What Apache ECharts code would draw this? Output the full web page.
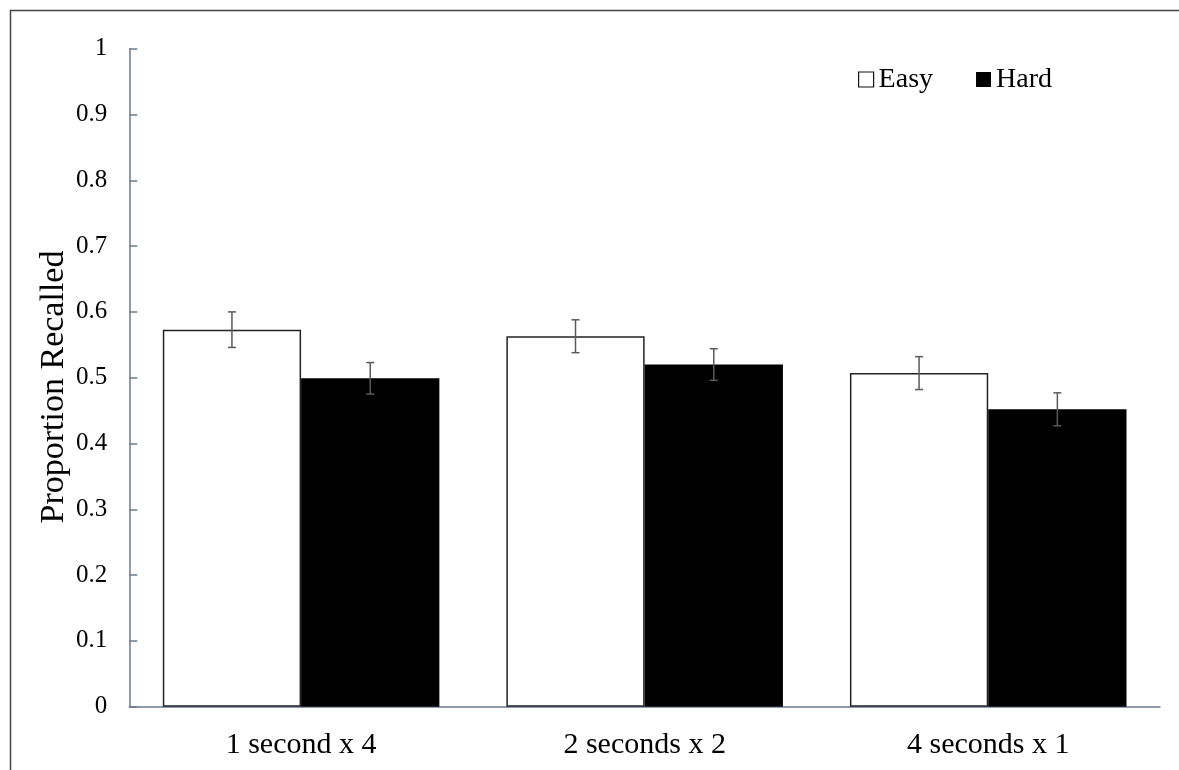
<!DOCTYPE html>
<html>
<head>
<meta charset="utf-8">
<script src="https://cdn.jsdelivr.net/npm/echarts@6/dist/echarts.min.js"></script>
<style>
html,body{margin:0;padding:0;background:#fff;}
#chart{width:1179px;height:770px;}
</style>
</head>
<body>
<div id="chart"></div>
<script>
const categories = ['1 second x 4', '2 seconds x 2', '4 seconds x 1'];
const easyValues = [0.573, 0.563, 0.507];
const hardValues = [0.499, 0.520, 0.452];
const easyErrors = [0.027, 0.025, 0.025];
const hardErrors = [0.024, 0.024, 0.025];
const yTitle = 'Proportion Recalled';

const FONT = '"Liberation Serif", "Times New Roman", serif';
const GAP = 0.195;
const chart = echarts.init(document.getElementById('chart'));

function errorSeries(name, values, errors, side) {
  return {
    type: 'custom',
    name: name + ' error',
    silent: true,
    z: 5,
    data: values.map((v, i) => [i, v, errors[i]]),
    renderItem: function (params, api) {
      const i = api.value(0), v = api.value(1), e = api.value(2);
      const band = api.size([1, 0])[0];
      const bw = band * (1 - GAP) / 2;
      const c = api.coord([i, v]);
      const x = c[0] + side * bw / 2;
      const hi = api.coord([i, v + e])[1];
      const lo = api.coord([i, v - e])[1];
      const cap = 4;
      const st = { stroke: '#5a5a5a', lineWidth: 1.5 };
      return {
        type: 'group',
        children: [
          { type: 'line', shape: { x1: x, y1: hi, x2: x, y2: lo }, style: st },
          { type: 'line', shape: { x1: x - cap, y1: hi, x2: x + cap, y2: hi }, style: st },
          { type: 'line', shape: { x1: x - cap, y1: lo, x2: x + cap, y2: lo }, style: st }
        ]
      };
    }
  };
}

chart.setOption({
  animation: false,
  backgroundColor: '#fff',
  grid: { left: 129.3, right: 19, top: 48.7, bottom: 63.3, containLabel: false },
  legend: {
    left: 858, top: 65.5, padding: 0,
    itemWidth: 15, itemHeight: 15, itemGap: 43,
    icon: 'rect',
    textStyle: { fontFamily: FONT, fontSize: 28, color: '#000', lineHeight: 28, padding: [0, 0, 0, 0] },
    data: [
      { name: 'Easy', itemStyle: { color: '#fff', borderColor: '#111', borderWidth: 1.2 } },
      { name: 'Hard', itemStyle: { color: '#000', borderWidth: 0 } }
    ]
  },
  xAxis: {
    type: 'category',
    data: categories,
    axisLine: { show: true, lineStyle: { color: '#6b7a8f', width: 1.5 } },
    axisTick: { show: false },
    axisLabel: { fontFamily: FONT, fontSize: 30, color: '#000', margin: 23 }
  },
  yAxis: {
    type: 'value',
    min: 0, max: 1, interval: 0.1,
    splitLine: { show: false },
    axisLine: { show: true, lineStyle: { color: '#6b7a8f', width: 1.5 } },
    axisTick: { show: true, inside: true, length: 8, lineStyle: { color: '#6b7a8f', width: 1.5 } },
    axisLabel: { fontFamily: FONT, fontSize: 25, color: '#000', margin: 22 }
  },
  series: [
    {
      name: 'Easy', type: 'bar', data: easyValues,
      barGap: '0%', barCategoryGap: (GAP * 100) + '%',
      itemStyle: { color: '#fff', borderColor: '#222', borderWidth: 1.5 }
    },
    {
      name: 'Hard', type: 'bar', data: hardValues,
      barGap: '0%', barCategoryGap: (GAP * 100) + '%',
      itemStyle: { color: '#000' }
    },
    errorSeries('Easy', easyValues, easyErrors, -1),
    errorSeries('Hard', hardValues, hardErrors, 1)
  ],
  graphic: [
    { type: 'rect', silent: true, shape: { x: 10.5, y: 10.5, width: 1400, height: 1000 },
      style: { fill: 'none', stroke: '#444', lineWidth: 1.5 } },
    { type: 'text', silent: true, x: 54, y: 387, rotation: Math.PI / 2,
      style: { text: yTitle, font: '34px ' + FONT, fill: '#000', align: 'center', verticalAlign: 'middle' } }
  ]
});
</script>
</body>
</html>
